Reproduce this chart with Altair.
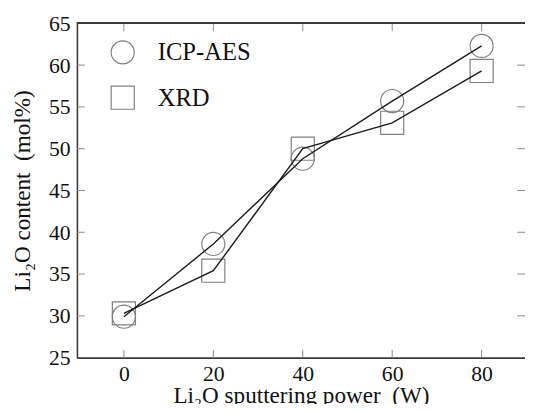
import altair as alt
import pandas as pd

power = [0, 20, 40, 60, 80]
icp_aes = [29.9, 38.6, 48.8, 55.7, 62.3]
xrd = [30.3, 35.4, 50.0, 53.1, 59.3]
series_names = ["ICP-AES", "XRD"]
x_ticks = [0, 20, 40, 60, 80]
y_ticks = [25, 30, 35, 40, 45, 50, 55, 60, 65]
y_inner_ticks = [30, 35, 40, 45, 50, 55, 60]

rows = []
for name, vals in zip(series_names, [icp_aes, xrd]):
    for p, v in zip(power, vals):
        rows.append({"power": p, "value": v, "series": name})
df = pd.DataFrame(rows)

W, H = 455, 339.5
FONT = "Liberation Serif"
FRAME = "#3a3a3a"
TICK = "#8a8a8a"
MARK = "#808080"

xscale = alt.Scale(domain=[-10.5, 89.7], nice=False, zero=False)
yscale = alt.Scale(domain=[25, 65], nice=False, zero=False)

x_enc = alt.X(
    "power:Q", scale=xscale,
    axis=alt.Axis(values=x_ticks, ticks=False, grid=False, domain=True,
                  domainColor=FRAME, domainWidth=1.6,
                  labelFontSize=22, labelPadding=6, labelColor="#111",
                  labelFont=FONT,
                  title="Li\u2082O sputtering power\u00a0\u00a0(W)",
                  titleFontSize=23.5, titleFont=FONT, titleFontWeight="normal",
                  titleColor="#111", titleY=45.5, titleBaseline="alphabetic"),
)
y_enc = alt.Y(
    "value:Q", scale=yscale,
    axis=alt.Axis(values=y_ticks, ticks=False, grid=False, domain=True,
                  domainColor=FRAME, domainWidth=1.6,
                  labelFontSize=22, labelPadding=7, labelColor="#111",
                  labelFont=FONT,
                  title="Li\u2082O content\u00a0\u00a0(mol%)",
                  titleFontSize=23.5, titleFont=FONT, titleFontWeight="normal",
                  titleColor="#111", titlePadding=14),
)

lines = alt.Chart(df).mark_line(color="#1c1c1c", strokeWidth=1.4).encode(
    x=x_enc, y=y_enc, detail="series:N"
)

points = alt.Chart(df).mark_point(filled=False, size=550, strokeWidth=1.2, color=MARK, opacity=1).encode(
    x=alt.X("power:Q", scale=xscale),
    y=alt.Y("value:Q", scale=yscale),
    shape=alt.Shape(
        "series:N",
        scale=alt.Scale(domain=series_names, range=["circle", "square"]),
        legend=alt.Legend(
            title=None, orient="none", legendX=34, legendY=17,
            labelFontSize=25, labelFont=FONT, labelColor="#111",
            symbolSize=550, symbolStrokeColor=MARK, symbolFillColor="transparent",
            symbolStrokeWidth=1.2, labelOffset=23, rowPadding=17, padding=0,
        ),
    ),
)

xt = pd.DataFrame({"t": x_ticks})
yt = pd.DataFrame({"t": y_inner_ticks})

bottom_ticks = alt.Chart(xt).mark_rule(color=TICK, strokeWidth=1).encode(
    x=alt.X("t:Q", scale=xscale), y=alt.value(H), y2=alt.value(H - 8)
)
top_ticks = alt.Chart(xt).mark_rule(color=TICK, strokeWidth=1).encode(
    x=alt.X("t:Q", scale=xscale), y=alt.value(0), y2=alt.value(8)
)
left_ticks = alt.Chart(yt).mark_rule(color=TICK, strokeWidth=1).encode(
    y=alt.Y("t:Q", scale=yscale), x=alt.value(0), x2=alt.value(8)
)
right_ticks = alt.Chart(yt).mark_rule(color=TICK, strokeWidth=1).encode(
    y=alt.Y("t:Q", scale=yscale), x=alt.value(W - 8), x2=alt.value(W)
)
top_line = alt.Chart(xt).mark_rule(color=FRAME, strokeWidth=1.6).encode(
    x=alt.value(0), x2=alt.value(W), y=alt.value(0)
)

chart = alt.layer(
    points, lines, bottom_ticks, top_ticks, left_ticks, right_ticks, top_line
).properties(
    width=W, height=H,
    autosize=alt.AutoSizeParams(type="none"),
    padding={"left": 70, "top": 12.5, "right": 0, "bottom": 44},
).configure(font=FONT, background="white").configure_view(stroke=None)

chart.save("out.html", embed_options={"renderer": "svg", "actions": False})
